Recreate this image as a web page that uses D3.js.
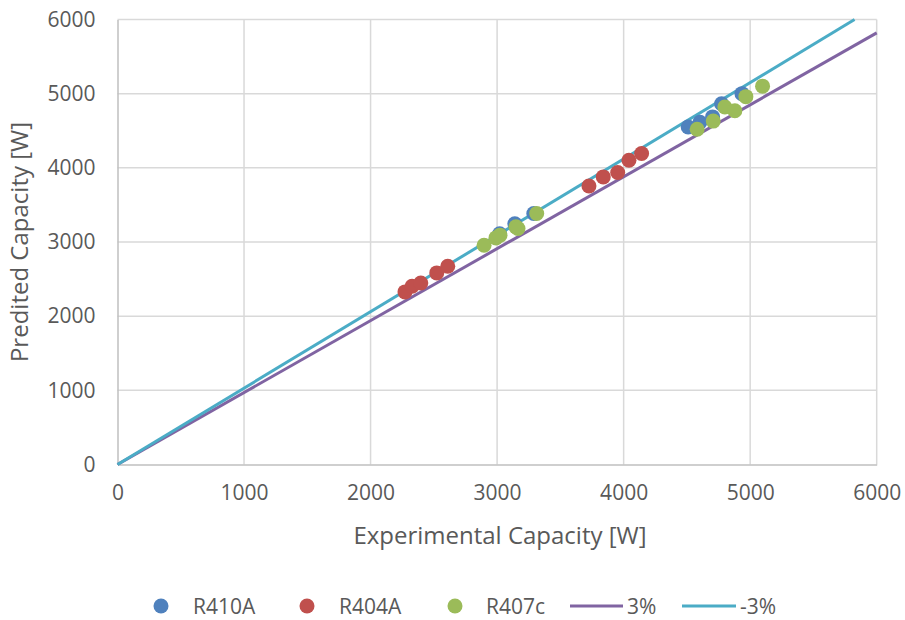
<!DOCTYPE html>
<html><head><meta charset="utf-8">
<script src="https://cdn.jsdelivr.net/npm/d3@7"></script>
<style>body{margin:0;background:#fff}svg{display:block}</style>
</head><body>
<svg id="c" width="905" height="620"></svg>
<script>
const xTicks = [0,1000,2000,3000,4000,5000,6000];
const yTicks = [0,1000,2000,3000,4000,5000,6000];
const r410aX = [3020,3140,3290,4510,4603,4703,4774,4935];
const r410aY = [3110,3245,3385,4550,4615,4687,4865,5000];
const r404aX = [2272,2328,2397,2523,2610,3726,3839,3953,4042,4142];
const r404aY = [2327,2404,2448,2583,2674,3756,3878,3937,4103,4193];
const r407cX = [2897,2991,3023,3149,3165,3313,4581,4708,4800,4879,4966,5098];
const r407cY = [2957,3055,3092,3204,3182,3384,4521,4630,4821,4770,4960,5101];
const plus3X = [0,6000], plus3Y = [0,5820];
const minus3X = [0,5825], minus3Y = [0,6000];
const seriesNames = ["R410A","R404A","R407c","3%","-3%"];
const colors = {"R410A":"#4f81bd","R404A":"#c0504d","R407c":"#9bbb59","3%":"#8064a2","-3%":"#4bacc6"};

const svg = d3.select("#c");
const L=117.5, R=876.7, T=19.5, B=464.5;
const x = d3.scaleLinear().domain([0,6000]).range([L,R]);
const y = d3.scaleLinear().domain([0,6000]).range([B,T]);
const font = "'Open Sans', sans-serif";
const txt = "#595959";
const fs = 21, fsTitle = 24;

// grid
svg.append("g").selectAll("line").data(xTicks.slice(1)).join("line")
  .attr("x1",d=>x(d)).attr("x2",d=>x(d)).attr("y1",T).attr("y2",B)
  .attr("stroke","#d9d9d9").attr("stroke-width",1.5);
svg.append("g").selectAll("line").data(yTicks.slice(1)).join("line")
  .attr("x1",L).attr("x2",R).attr("y1",d=>y(d)).attr("y2",d=>y(d))
  .attr("stroke","#d9d9d9").attr("stroke-width",1.5);

// axes
const xAxis = svg.append("g").attr("transform",`translate(0,${B})`)
  .call(d3.axisBottom(x).tickValues(xTicks).tickSize(0).tickPadding(21).tickFormat(d3.format("d")));
xAxis.select(".domain").attr("stroke","#bfbfbf").attr("stroke-width",1.5);
xAxis.selectAll("text").attr("font-family",font).attr("font-size",fs).attr("fill",txt);
const yAxis = svg.append("g").attr("transform",`translate(${L},0)`)
  .call(d3.axisLeft(y).tickValues(yTicks).tickSize(0).tickPadding(22).tickFormat(d3.format("d")));
yAxis.select(".domain").attr("stroke","#bfbfbf").attr("stroke-width",1.5);
yAxis.selectAll("text").attr("font-family",font).attr("font-size",fs).attr("fill",txt);

// titles
svg.append("text").attr("x",500).attr("y",544).attr("text-anchor","middle")
  .attr("font-family",font).attr("font-size",fsTitle).attr("fill",txt).text("Experimental Capacity [W]");
svg.append("text").attr("transform",`translate(28,${(T+B)/2}) rotate(-90)`).attr("text-anchor","middle")
  .attr("font-family",font).attr("font-size",fsTitle).attr("fill",txt).text("Predited Capacity [W]");

// clip
svg.append("clipPath").attr("id","pc").append("rect").attr("x",L-2).attr("y",T-2).attr("width",R-L+4).attr("height",B-T+4);
const plot = svg.append("g").attr("clip-path","url(#pc)");
const line = d3.line().x(d=>x(d[0])).y(d=>y(d[1]));
plot.append("path").datum(d3.zip(plus3X,plus3Y)).attr("d",line).attr("fill","none")
  .attr("stroke",colors["3%"]).attr("stroke-width",3);
plot.append("path").datum(d3.zip(minus3X,minus3Y)).attr("d",line).attr("fill","none")
  .attr("stroke",colors["-3%"]).attr("stroke-width",3);

const pts = [["R410A",r410aX,r410aY],["R404A",r404aX,r404aY],["R407c",r407cX,r407cY]];
pts.forEach(([n,xs,ys])=>{
  plot.append("g").selectAll("circle").data(d3.zip(xs,ys)).join("circle")
    .attr("cx",d=>x(d[0])).attr("cy",d=>y(d[1])).attr("r",7.5).attr("fill",colors[n]);
});

// legend
const lg = svg.append("g").attr("font-family",font).attr("font-size",fs).attr("fill",txt);
const lgItems = [
  {n:"R410A",type:"dot",mx:161,tx:193},
  {n:"R404A",type:"dot",mx:307,tx:339},
  {n:"R407c",type:"dot",mx:455,tx:486},
  {n:"3%",type:"line",mx:570,mx2:623,tx:627},
  {n:"-3%",type:"line",mx:682,mx2:736,tx:740}
];
const ly = 606;
lgItems.forEach(it=>{
  if(it.type==="dot") lg.append("circle").attr("cx",it.mx).attr("cy",ly).attr("r",7.5).attr("fill",colors[it.n]);
  else lg.append("line").attr("x1",it.mx).attr("x2",it.mx2).attr("y1",ly).attr("y2",ly).attr("stroke",colors[it.n]).attr("stroke-width",3);
  lg.append("text").attr("x",it.tx).attr("y",ly).attr("dy","0.36em").text(it.n);
});
</script>
</body></html>
